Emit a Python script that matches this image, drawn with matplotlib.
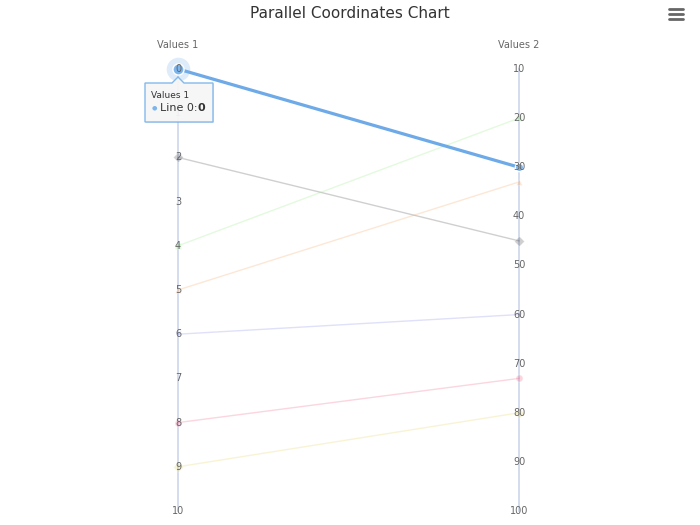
import matplotlib

matplotlib.use("Agg")
import matplotlib.pyplot as plt  # noqa: E402
from matplotlib.patches import Polygon  # noqa: E402

# data: one line per series, value on axis 1 and axis 2
series_names = ["Line 0", "Line 2", "Line 4", "Line 5", "Line 6", "Line 8", "Line 9"]
values_1 = [0, 2, 4, 5, 6, 8, 9]
values_2 = [30, 45, 20, 33, 60, 73, 80]
colors = ["#7cb5ec", "#434348", "#90ed7d", "#f7a35c", "#8085e9", "#f15c80", "#e4d354"]
markers = ["o", "D", "s", "^", "v", "o", "D"]

axis_titles = ["Values 1", "Values 2"]
axis1_ticks = list(range(0, 11))
axis2_ticks = list(range(10, 101, 10))
AX1_MIN, AX1_MAX = 0, 10
AX2_MIN, AX2_MAX = 10, 100

W, H = 700, 525
fig = plt.figure(figsize=(W / 100, H / 100), dpi=100)
fig.patch.set_facecolor("white")


def fx(x):
    return x / W


def fy(y):
    return 1 - y / H


# plot area spans exactly between the two parallel axes
ax = fig.add_axes([fx(178), fy(511), fx(519) - fx(178), fy(69) - fy(511)])
ax.set_xlim(0, 1)
ax.set_ylim(1, 0)  # reversed: minimum at top
ax.axis("off")


def n1(v):
    return (v - AX1_MIN) / (AX1_MAX - AX1_MIN)


def n2(v):
    return (v - AX2_MIN) / (AX2_MAX - AX2_MIN)


AXIS_C = "#ccd6eb"
LABEL_C = "#666666"
ax.plot([0, 0], [0, 1], color=AXIS_C, lw=1.2, zorder=1, clip_on=False)
ax.plot([1, 1], [0, 1], color=AXIS_C, lw=1.2, zorder=1, clip_on=False)

# hovered series is index 0; others faded (inactive state)
for i, (v1, v2, c, m) in enumerate(zip(values_1, values_2, colors, markers)):
    ys = [n1(v1), n2(v2)]
    if i == 0:
        ax.plot([0, 1], ys, color="#6eaae8", lw=2.3, zorder=4, clip_on=False,
                solid_capstyle="round")
        ax.plot([1], [ys[1]], marker=m, ms=6, color=c, mec="white", mew=1,
                zorder=5, clip_on=False)
    else:
        ax.plot([0, 1], ys, color=c, lw=1, alpha=0.25, zorder=2, clip_on=False)
        ax.plot([0, 1], ys, ls="none", marker=m, ms=5, color=c, mec="white",
                mew=0.8, alpha=0.25, zorder=2, clip_on=False)

# hover halo + marker on the hovered point
ax.plot([0], [n1(values_1[0])], marker="o", ms=17, color=colors[0], alpha=0.25,
        mew=0, zorder=5, clip_on=False)
ax.plot([0], [n1(values_1[0])], marker="o", ms=8, color=colors[0], mec="white",
        mew=1, zorder=6, clip_on=False)

# tick labels centered on the axis lines
for t in axis1_ticks:
    ax.text(0, n1(t), str(t), ha="center", va="center", fontsize=7,
            color=LABEL_C, zorder=7, clip_on=False)
for t in axis2_ticks:
    ax.text(1, n2(t), str(t), ha="center", va="center", fontsize=7,
            color=LABEL_C, zorder=7, clip_on=False)

for xpos, title in zip([0, 1], axis_titles):
    ax.text(xpos, -0.055, title, ha="center", va="center", fontsize=7,
            color=LABEL_C, clip_on=False)

fig.text(0.5, fy(14), "Parallel Coordinates Chart", ha="center", va="center",
         fontsize=11, color="#333333")

# export menu icon
for yy in (9, 14, 19):
    fig.add_artist(plt.Line2D([fx(669), fx(683)], [fy(yy), fy(yy)], color="#666666",
                              lw=2, solid_capstyle="round"))

# tooltip with callout notch
box = [(145, 83), (172, 83), (178, 77), (184, 83), (213, 83), (213, 122), (145, 122)]
shadow = Polygon([(fx(x + 1), fy(y + 1)) for x, y in box], closed=True,
                 transform=fig.transFigure, facecolor="#000000", alpha=0.08,
                 edgecolor="none", zorder=8)
fig.add_artist(shadow)
tip = Polygon([(fx(x), fy(y)) for x, y in box], closed=True, transform=fig.transFigure,
              facecolor="#f7f7f7", edgecolor=colors[0], lw=1, alpha=0.95, zorder=9)
fig.add_artist(tip)
fig.text(fx(151), fy(96), axis_titles[0], fontsize=6.5, color="#333333", va="center",
         zorder=10)
fig.text(fx(152), fy(108), "\u25cf", fontsize=4.5, color=colors[0], va="center",
         zorder=10)
fig.text(fx(160), fy(108), f"{series_names[0]}:", fontsize=8, color="#333333",
         va="center", zorder=10)
fig.text(fx(197), fy(108), str(values_1[0]), fontsize=8, color="#333333",
         va="center", fontweight="bold", zorder=10)

fig.savefig("out.png", dpi=100)
